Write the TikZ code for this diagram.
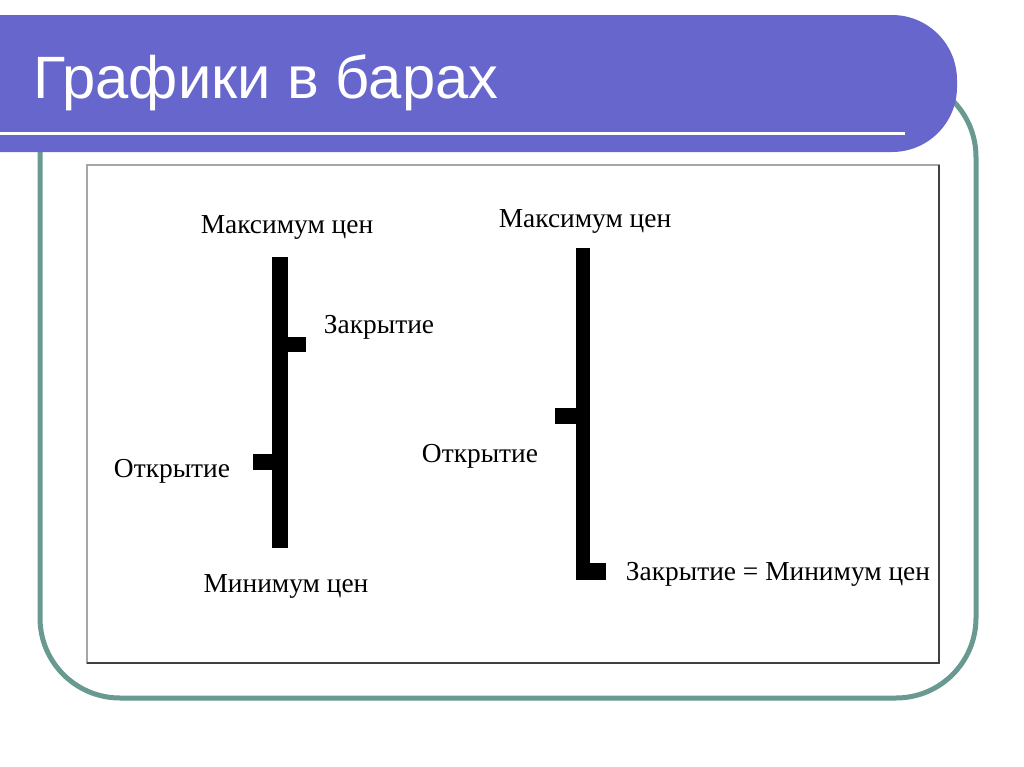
\documentclass[tikz,border=0pt]{standalone}
\usepackage{fontspec}
\setmainfont{Liberation Serif}
\newfontfamily\titlefont{Liberation Sans}
\definecolor{BannerBlue}{RGB}{102,102,204}
\definecolor{FrameGreen}{RGB}{104,154,146}

\begin{document}
\begin{tikzpicture}[x=0.2mm, y=-0.2mm,
        every node/.style={inner sep=0pt, anchor=base, font=\fontsize{15.6}{18}\selectfont},
        tick/.style={fill=black}]
        \useasboundingbox[fill=white] (0,0) rectangle (1024,767);

        \draw[FrameGreen, line width=1mm, rounded corners=16mm] (40,77) rectangle (976,698);
        \fill[BannerBlue, rounded corners=13mm] (-300,15) rectangle (957,152);
        \draw[white, line width=0.6mm] (-10,133) -- (905,133);
        \node[anchor=base west, text=white, font=\titlefont\fontsize{34}{40}\selectfont] (title) at (33,98) {Графики в барах};

        \draw[gray!70, line width=0.4mm] (87,165) rectangle (939,663);
        \draw[black!75, line width=0.4mm] (939,165) -- (939,663) -- (87,663);

        \fill[tick] (272,257) rectangle (288,548);
        \fill[tick] (287,337) rectangle (306,352);
        \fill[tick] (253,454) rectangle (273,470);
        \node (amax) at (287,233) {Максимум цен};
        \node (aclose) at (379,333) {Закрытие};
        \node (aopen) at (172,477) {Открытие};
        \node (amin) at (286,592) {Минимум цен};

        \fill[tick] (576,248) rectangle (590,580);
        \fill[tick] (555,408) rectangle (577,424);
        \fill[tick] (589,563) rectangle (606,580);
        \node (bmax) at (585,227) {Максимум цен};
        \node (bopen) at (480,462) {Открытие};
        \node (bclose) at (778,580) {Закрытие = Минимум цен};
    \end{tikzpicture}
\end{document}
